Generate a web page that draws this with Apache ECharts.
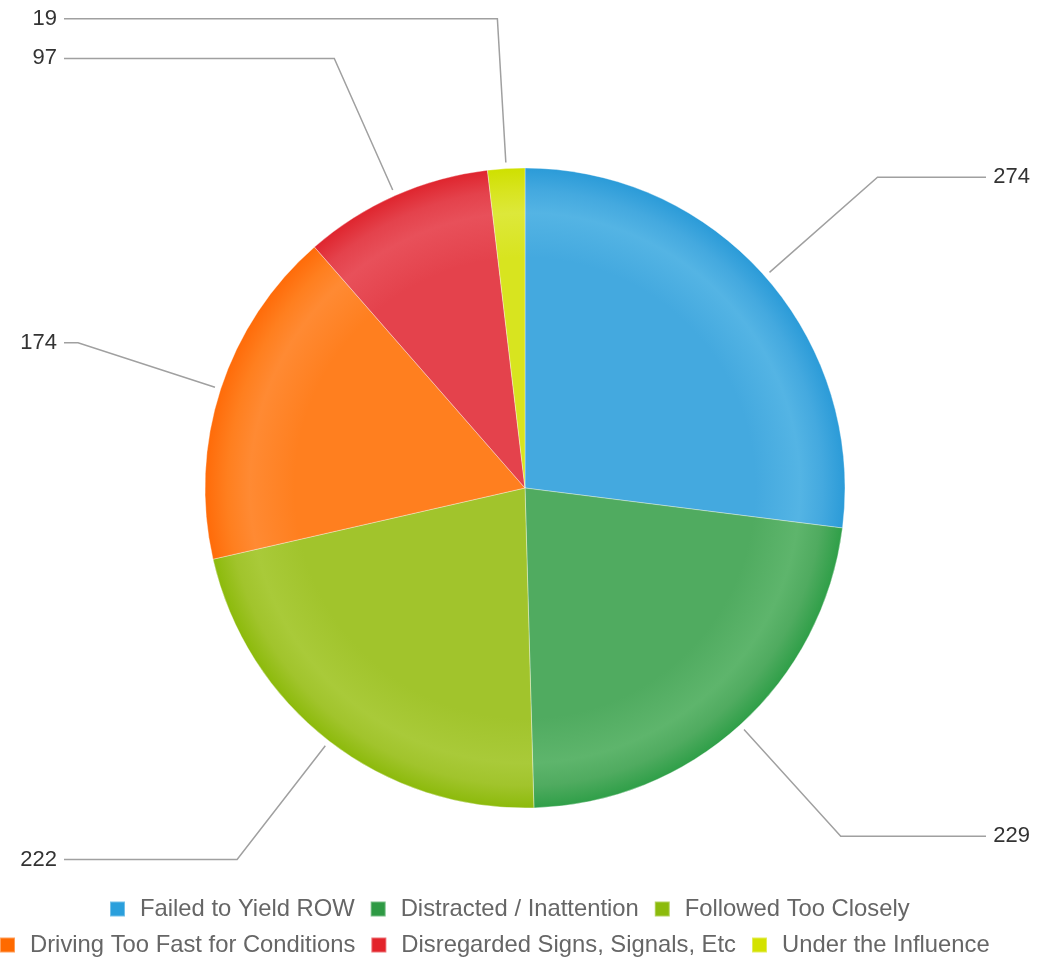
<!DOCTYPE html>
<html>
<head>
<meta charset="utf-8">
<script src="https://cdn.jsdelivr.net/npm/echarts@6/dist/echarts.min.js"></script>
<style>
html,body{margin:0;padding:0;background:#fff;}
#chart{width:1040px;height:957px;}
</style>
</head>
<body>
<div id="chart"></div>
<script>
const categories = [
  'Failed to Yield ROW',
  'Distracted / Inattention',
  'Followed Too Closely',
  'Driving Too Fast for Conditions',
  'Disregarded Signs, Signals, Etc',
  'Under the Influence'
];
const values = [274, 229, 222, 174, 97, 19];
// [interior, light band, rim] per slice, and legend swatch colour
const sliceColors = [
  ['#44a9df', '#54b4e4', '#2b9bd8'],
  ['#50ab60', '#5eb56c', '#2f9f48'],
  ['#a1c42c', '#a9ca39', '#8cba0b'],
  ['#ff7f1f', '#ff8a33', '#ff6b09'],
  ['#e4424c', '#e8505a', '#df252e'],
  ['#d8e41f', '#dde83a', '#cfe000']
];
const legendColors = ['#2a9fdc', '#2e9a44', '#8cbb0c', '#ff6a00', '#e3242b', '#d4e200'];

const CX = 525, CY = 488, R = 320;
const LINE_END_LEFT = 64, LINE_END_RIGHT = 986;

function grad(c) {
  return {
    type: 'radial', x: CX, y: CY, r: R, global: true,
    colorStops: [
      {offset: 0, color: c[0]},
      {offset: 0.72, color: c[0]},
      {offset: 0.86, color: c[1]},
      {offset: 0.93, color: c[0]},
      {offset: 1, color: c[2]}
    ]
  };
}

const chart = echarts.init(document.getElementById('chart'), null, {renderer: 'canvas'});

const legendBase = {
  orient: 'horizontal',
  icon: 'rect',
  itemWidth: 15,
  itemHeight: 15,
  itemGap: 15,
  textStyle: {
    fontFamily: 'Liberation Sans, Arial, sans-serif',
    fontSize: 23.8,
    color: '#666',
    padding: [0, 0, 0, 10]
  }
};

chart.setOption({
  animation: false,
  legend: [
    Object.assign({}, legendBase, {
      left: 104, top: 892,
      data: categories.slice(0, 3).map((n, i) => ({name: n, itemStyle: {color: legendColors[i]}}))
    }),
    Object.assign({}, legendBase, {
      left: -6, top: 928,
      data: categories.slice(3).map((n, i) => ({name: n, itemStyle: {color: legendColors[i + 3]}}))
    })
  ],
  series: [{
    type: 'pie',
    left: 9, right: 0, top: 0, bottom: 0,
    center: [CX - 9, CY],
    radius: R,
    startAngle: 90,
    clockwise: true,
    avoidLabelOverlap: true,
    itemStyle: {borderColor: 'rgba(255,255,255,0.35)', borderWidth: 1},
    label: {
      position: 'outside',
      alignTo: 'edge',
      edgeDistance: 10,
      distanceToLabelLine: 7,
      formatter: '{v|{c}}',
      rich: {
        v: {
          width: 38, align: 'right',
          fontFamily: 'Liberation Sans, Arial, sans-serif',
          fontSize: 22, color: '#333'
        }
      }
    },
    labelLine: {
      show: true, length: 150, length2: 10,
      lineStyle: {color: '#a0a0a0', width: 1.5}
    },
    labelLayout: function (p) {
      const pts = p.labelLinePoints;
      if (!pts) return {};
      const isLeft = pts[1][0] < CX;
      const np = [
        [pts[0][0] + (pts[1][0] - pts[0][0]) * 0.04, pts[0][1] + (pts[1][1] - pts[0][1]) * 0.04],
        [pts[1][0], pts[1][1]],
        [isLeft ? LINE_END_LEFT : LINE_END_RIGHT, pts[2][1]]
      ];
      return {labelLinePoints: np};
    },
    emphasis: {disabled: true},
    data: categories.map((n, i) => ({
      name: n, value: values[i],
      itemStyle: {color: grad(sliceColors[i])}
    }))
  }]
});
</script>
</body>
</html>
